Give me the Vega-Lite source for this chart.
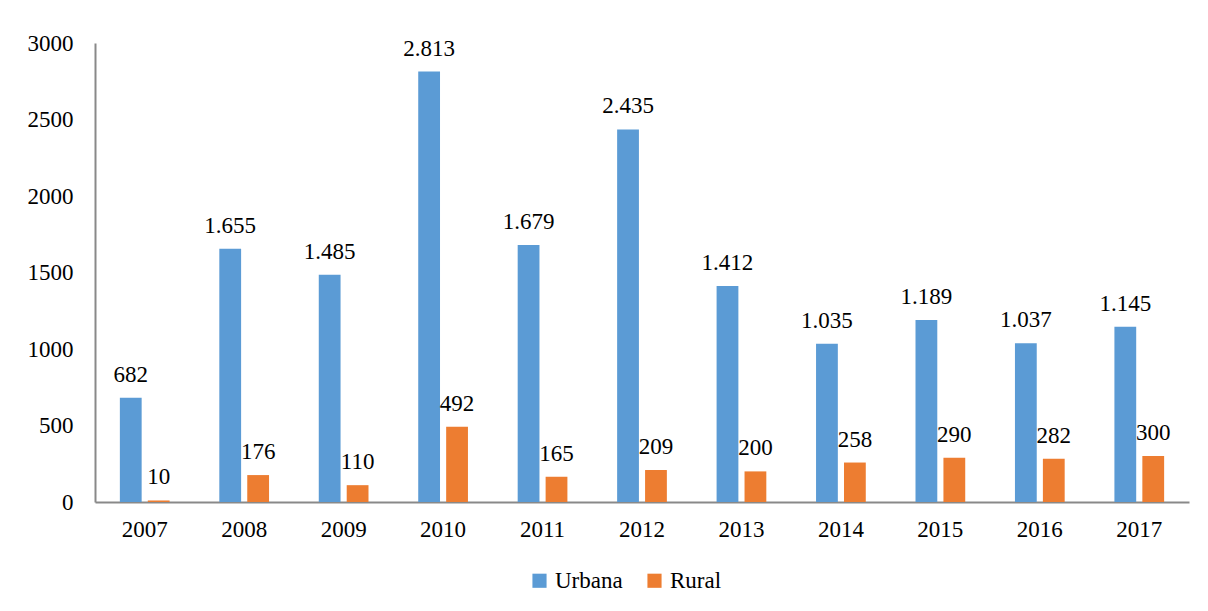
{
  "$schema": "https://vega.github.io/schema/vega-lite/v6.json",
  "width": 1094,
  "height": 459,
  "autosize": {"type": "none"},
  "padding": {"left": 95, "top": 43, "right": 19, "bottom": 109},
  "background": "white",
  "config": {
    "font": "Times New Roman",
    "axis": {"labelFont": "Times New Roman"},
    "legend": {"labelFont": "Times New Roman"},
    "text": {"font": "Times New Roman"},
    "view": {"stroke": null},
    "locale": {"number": {"decimal": ",", "thousands": ".", "grouping": [3], "currency": ["", ""]}}
  },
  "data": {
    "values": [
      {"year": "2007", "serie": "Urbana", "value": 682},
      {"year": "2007", "serie": "Rural", "value": 10},
      {"year": "2008", "serie": "Urbana", "value": 1655},
      {"year": "2008", "serie": "Rural", "value": 176},
      {"year": "2009", "serie": "Urbana", "value": 1485},
      {"year": "2009", "serie": "Rural", "value": 110},
      {"year": "2010", "serie": "Urbana", "value": 2813},
      {"year": "2010", "serie": "Rural", "value": 492},
      {"year": "2011", "serie": "Urbana", "value": 1679},
      {"year": "2011", "serie": "Rural", "value": 165},
      {"year": "2012", "serie": "Urbana", "value": 2435},
      {"year": "2012", "serie": "Rural", "value": 209},
      {"year": "2013", "serie": "Urbana", "value": 1412},
      {"year": "2013", "serie": "Rural", "value": 200},
      {"year": "2014", "serie": "Urbana", "value": 1035},
      {"year": "2014", "serie": "Rural", "value": 258},
      {"year": "2015", "serie": "Urbana", "value": 1189},
      {"year": "2015", "serie": "Rural", "value": 290},
      {"year": "2016", "serie": "Urbana", "value": 1037},
      {"year": "2016", "serie": "Rural", "value": 282},
      {"year": "2017", "serie": "Urbana", "value": 1145},
      {"year": "2017", "serie": "Rural", "value": 300}
    ]
  },
  "encoding": {
    "x": {
      "field": "year", "type": "nominal",
      "scale": {"paddingInner": 0.5, "paddingOuter": 0.25},
      "axis": {
        "title": null, "labelAngle": 0, "labelFontSize": 23, "labelColor": "#000000",
        "labelPadding": 16, "ticks": false, "domainColor": "#898989", "domainWidth": 2
      }
    },
    "xOffset": {
      "field": "serie", "type": "nominal", "sort": ["Urbana", "Rural"],
      "scale": {"domain": ["Urbana", "Rural"], "paddingInner": 0.22, "paddingOuter": 0}
    },
    "y": {
      "field": "value", "type": "quantitative",
      "scale": {"domain": [0, 3000], "nice": false},
      "axis": {
        "title": null, "values": [0, 500, 1000, 1500, 2000, 2500, 3000], "format": "d",
        "labelFontSize": 23, "labelColor": "#000000", "labelPadding": 22, "ticks": false,
        "grid": false, "domainColor": "#898989", "domainWidth": 2
      }
    }
  },
  "layer": [
    {
      "mark": {"type": "bar"},
      "encoding": {
        "color": {
          "field": "serie", "type": "nominal",
          "scale": {"domain": ["Urbana", "Rural"], "range": ["#5B9BD5", "#ED7D31"]},
          "legend": {
            "title": null, "orient": "none", "direction": "horizontal",
            "legendX": 433, "legendY": 526,
            "symbolType": "square", "symbolSize": 200, "symbolStrokeWidth": 0,
            "labelFontSize": 23, "labelColor": "#000000", "labelOffset": 4, "columnPadding": 20
          }
        }
      }
    },
    {
      "mark": {"type": "text", "baseline": "alphabetic", "dy": -16, "fontSize": 23, "color": "#000000", "font": "Times New Roman"},
      "encoding": {
        "text": {"field": "value", "type": "quantitative", "format": ",d"}
      }
    }
  ]
}
